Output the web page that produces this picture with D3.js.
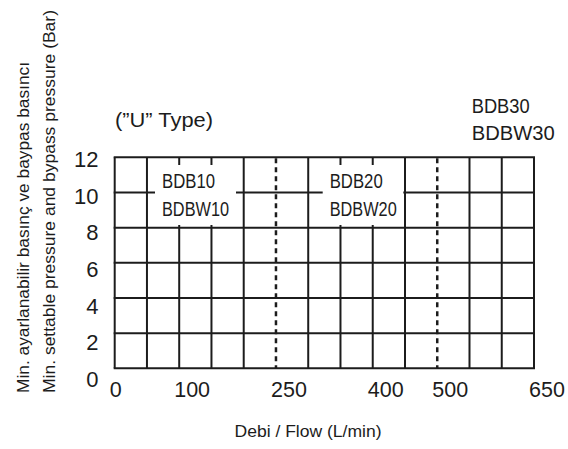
<!DOCTYPE html>
<html><head><meta charset="utf-8">
<script src="https://cdn.jsdelivr.net/npm/d3@7"></script>
<style>
body{margin:0;background:#fff}
text{font-family:"Liberation Sans",Arial,Helvetica,sans-serif;fill:#1c1c1c}
</style>
</head><body><svg id="c" width="568" height="449"></svg>
<script>
// ---- data ----
const xTickValues = [0, 100, 250, 400, 500, 650];
const yTickValues = [0, 2, 4, 6, 8, 10, 12];
const xDomain = [0, 650];
const yDomain = [0, 12];
const xGridStep = 50;
const yGridStep = 2;
const dividerValues = [250, 500];
const modelNamesA = ["BDB10", "BDB20", "BDB30"];
const modelNamesB = ["BDBW10", "BDBW20", "BDBW30"];
const typeLabel = "(\u201DU\u201D Type)";
const xTitle = "Debi / Flow (L/min)";
const yTitleTr = "Min. ayarlanabilir basınç ve baypas basıncı";
const yTitleEn = "Min. settable pressure and bypass pressure (Bar)";

// ---- layout ----
const L = 114.7, R = 534, T = 157.3, B = 368.3;
const ink = "#1c1c1c";
const svg = d3.select("#c");
const x = d3.scaleLinear().domain(xDomain).range([L, R]);
const y = d3.scaleLinear().domain(yDomain).range([B, T]);
const yLabelBase = d3.scaleLinear().domain(yDomain).range([387, 167]);

const gx = d3.range(xDomain[0], xDomain[1] + 1, xGridStep);
const gy = d3.range(yDomain[0], yDomain[1] + 1, yGridStep);

const grid = svg.append("g").attr("stroke", ink).attr("stroke-width", 2).attr("fill", "none");
grid.selectAll("line.v").data(gx.filter(v => !dividerValues.includes(v)))
  .join("line").attr("class", "v")
  .attr("x1", d => x(d)).attr("x2", d => x(d)).attr("y1", T).attr("y2", B);
grid.selectAll("line.h").data(gy)
  .join("line").attr("class", "h")
  .attr("x1", L - 1).attr("x2", R + 1).attr("y1", d => y(d)).attr("y2", d => y(d));
grid.selectAll("line.d").data(dividerValues)
  .join("line").attr("class", "d")
  .attr("stroke-width", 2.5).attr("stroke-dasharray", "5,4")
  .attr("x1", d => x(d)).attr("x2", d => x(d)).attr("y1", T + 1).attr("y2", B);

// inner label boxes (BDB10 / BDB20)
const boxes = [{x0: 155, x1: 236}, {x0: 322.7, x1: 403.3}];
const boxTop = 165, boxBottom = 225;
boxes.forEach((b, i) => {
  svg.append("rect").attr("x", b.x0).attr("y", boxTop).attr("width", b.x1 - b.x0)
    .attr("height", boxBottom - boxTop).attr("fill", "#fff");
  svg.append("text").attr("x", b.x0 + 7).attr("y", 188).attr("font-size", 20)
    .attr("textLength", 53).attr("lengthAdjust", "spacingAndGlyphs").text(modelNamesA[i]);
  svg.append("text").attr("x", b.x0 + 7).attr("y", 216).attr("font-size", 20)
    .attr("textLength", 67).attr("lengthAdjust", "spacingAndGlyphs").text(modelNamesB[i]);
});
// BDB30 label above chart
svg.append("text").attr("x", 471.7).attr("y", 113.3).attr("font-size", 20)
  .attr("textLength", 58).attr("lengthAdjust", "spacingAndGlyphs").text(modelNamesA[2]);
svg.append("text").attr("x", 471.7).attr("y", 140).attr("font-size", 20)
  .attr("textLength", 83).attr("lengthAdjust", "spacingAndGlyphs").text(modelNamesB[2]);

// type label
svg.append("text").attr("x", 115).attr("y", 127).attr("font-size", 20)
  .attr("textLength", 98).attr("lengthAdjust", "spacingAndGlyphs").text(typeLabel);

// x tick labels
svg.selectAll("text.xt").data(xTickValues).join("text").attr("class", "xt")
  .attr("x", d => x(d) - 5).attr("y", 397).attr("font-size", 21.5)
  .attr("text-anchor", "start").text(d => d);

// y tick labels
svg.selectAll("text.yt").data(yTickValues).join("text").attr("class", "yt")
  .attr("x", 98.5).attr("y", d => yLabelBase(d)).attr("font-size", 22)
  .attr("text-anchor", "end").text(d => d);

// axis titles
svg.append("text").attr("x", 308).attr("y", 436.5).attr("font-size", 16)
  .attr("text-anchor", "middle").attr("textLength", 147).attr("lengthAdjust", "spacingAndGlyphs").text(xTitle);
svg.append("text").attr("transform", "translate(28.5,393) rotate(-90)").attr("font-size", 16)
  .attr("textLength", 331).attr("lengthAdjust", "spacingAndGlyphs").text(yTitleTr);
svg.append("text").attr("transform", "translate(55,393) rotate(-90)").attr("font-size", 16)
  .attr("textLength", 383).attr("lengthAdjust", "spacingAndGlyphs").text(yTitleEn);
</script>
</body></html>
